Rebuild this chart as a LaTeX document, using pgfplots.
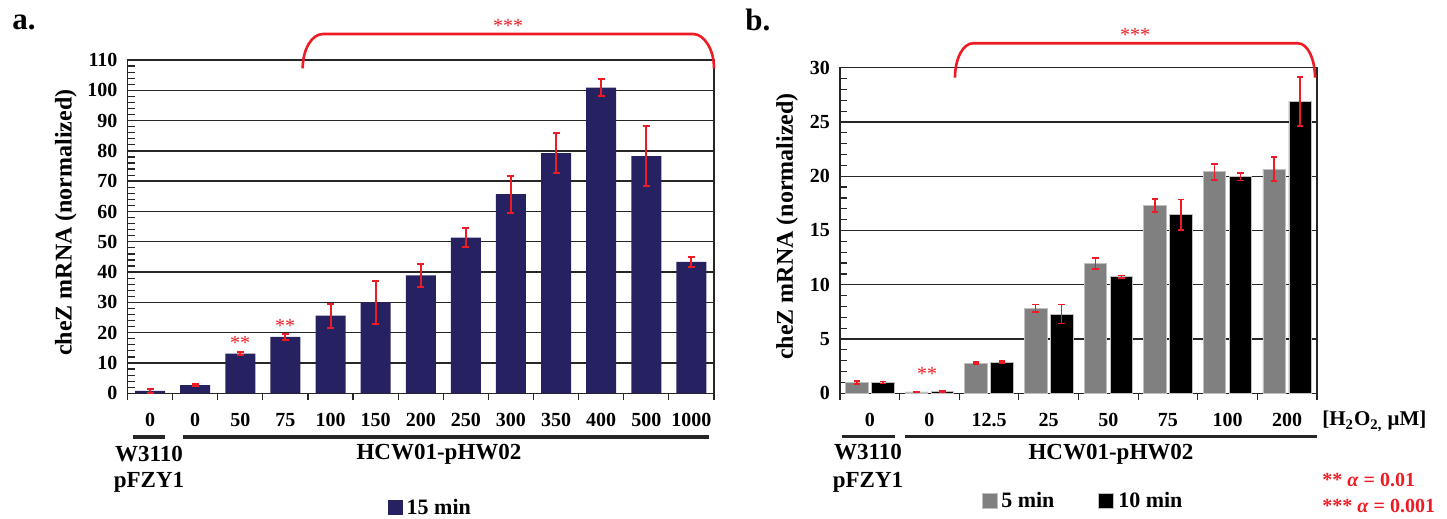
\documentclass[border=0pt]{standalone}
\usepackage{fontspec}
\setmainfont{Liberation Serif}
\usepackage{pgfplots}
\pgfplotsset{compat=1.18}

\definecolor{navybar}{HTML}{262262}
\definecolor{sigred}{HTML}{ED1C24}
\definecolor{grayfive}{HTML}{808080}

% shared look of both panels
\pgfplotsset{
  panel/.style={
    scale only axis,
    anchor=south west,
    axis line style={black!85, line width=0.7pt},
    ymajorgrids,
    grid style={black!85, line width=0.7pt},
    xtick pos=bottom, ytick pos=left,
    xtick align=outside, ytick align=inside,
    major tick length=0pt, minor tick length=3.5pt,
    minor tick style={black!85, line width=0.6pt},
    minor y tick num=4,
    ymin=0,
    tick label style={font=\fontsize{10}{12}\selectfont\bfseries},
    /pgf/number format/assume math mode=true,
    xticklabel style={anchor=base, yshift=-16.7pt},
    yticklabel style={xshift=-1.5pt},
    ylabel={cheZ mRNA (normalized)},
    ylabel style={font=\fontsize{12}{14}\selectfont\bfseries, anchor=center},
    legend style={draw=none, fill=none, anchor=center,
      font=\fontsize{11}{13}\selectfont\bfseries},
    error bars/error bar style={sigred, line width=1pt},
    error bars/error mark options={rotate=90, sigred, mark size=1.75pt, line width=1pt},
  },
  sqlegend/.style={legend image code/.code={\fill[##1] (0pt,-3.75pt) rectangle (7.5pt,3.75pt);}},
}

\begin{document}
\begin{tikzpicture}
\useasboundingbox (0,0) rectangle (723.5pt,259.5pt);

% ---- panel a ----
\begin{axis}[panel,
    at={(63.75pt,62.85pt)},
    width=293.25pt, height=166.65pt,
    ybar, bar width=15pt,
    xmin=-0.5, xmax=12.5,
    ymax=110, ytick={0,10,...,110},
    xtick={0,...,12},
    minor xtick={-0.5,0.5,...,12.5},
    xticklabels={0,0,50,75,100,150,200,250,300,350,400,500,1000},
    ylabel style={at={(axis description cs:-0.105,0.512)}},
    legend style={at={(axis description cs:0.518,-0.344)}},
]
\addplot[fill=navybar, draw=none, sqlegend,
    error bars/.cd, y dir=both, y explicit] coordinates {
    (0,0.8)   +- (0,0.6)
    (1,2.7)   +- (0,0.3)
    (2,13.1)  +- (0,0.55)
    (3,18.6)  +- (0,0.85)
    (4,25.6)  +- (0,3.9)
    (5,30.0)  +- (0,7.0)
    (6,38.9)  +- (0,3.7)
    (7,51.4)  +- (0,3.2)
    (8,65.7)  +- (0,6.1)
    (9,79.3)  +- (0,6.6)
    (10,100.9) +- (0,2.7)
    (11,78.3) +- (0,9.8)
    (12,43.4) +- (0,1.6)
};
\addlegendentry{15 min}
\end{axis}

% ---- panel b ----
\begin{axis}[panel,
    at={(420pt,62.85pt)},
    width=238.5pt, height=162.8pt,
    ybar=1.75pt, bar width=11.25pt,
    xmin=-0.5, xmax=7.5,
    ymax=30, ytick={0,5,...,30},
    xtick={0,...,7},
    minor xtick={-0.5,0.5,...,7.5},
    xticklabels={0,0,12.5,25,50,75,100,200},
    ylabel style={at={(axis description cs:-0.111,0.512)}},
    legend columns=2,
    legend style={at={(axis description cs:0.5115,-0.331)},
      /tikz/every even column/.append style={column sep=20pt}},
    error bars/error bar style={sigred, line width=0.8pt},
    error bars/error mark options={rotate=90, sigred, mark size=1.6pt, line width=0.8pt},
]
\addplot[fill=grayfive, draw=black!25, line width=0.4pt, sqlegend,
    error bars/.cd, y dir=both, y explicit] coordinates {
    (0,1.0)   +- (0,0.12)
    (1,0.12)  +- (0,0.05)
    (2,2.78)  +- (0,0.08)
    (3,7.82)  +- (0,0.35)
    (4,11.95) +- (0,0.5)
    (5,17.3)  +- (0,0.6)
    (6,20.4)  +- (0,0.75)
    (7,20.65) +- (0,1.1)
};
\addlegendentry{5 min}
\addplot[fill=black, draw=black!25, line width=0.4pt, sqlegend,
    error bars/.cd, y dir=both, y explicit] coordinates {
    (0,1.0)   +- (0,0.08)
    (1,0.18)  +- (0,0.05)
    (2,2.87)  +- (0,0.08)
    (3,7.3)   +- (0,0.87)
    (4,10.75) +- (0,0.1)
    (5,16.45) +- (0,1.4)
    (6,19.95) +- (0,0.35)
    (7,26.9)  +- (0,2.27)
};
\addlegendentry{10 min}
\end{axis}

% ---- annotations, in pixel units of the reference (y down) ----
\begin{scope}[yshift=259.5pt, x=0.5pt, y=-0.5pt]
  \tikzset{lab/.style={font=\fontsize{11.5}{13}\selectfont\bfseries, inner sep=0pt},
           star/.style={sigred, font=\fontsize{10}{12}\selectfont, inner sep=0pt}}
  % panel letters
  \node[font=\fontsize{15.5}{18}\selectfont\bfseries, anchor=base west, inner sep=0pt] at (12,30) {a.};
  \node[font=\fontsize{15.5}{18}\selectfont\bfseries, anchor=base west, inner sep=0pt] at (745,31) {b.};
  % significance brackets
  \draw[sigred, line width=1.3pt] (302.7,68.3) .. controls (302.7,49.4) and (311.8,34) .. (323,34)
     -- (693,34) .. controls (704.2,34) and (714,49.4) .. (714,68.3);
  \draw[sigred, line width=1.3pt] (955,77.7) .. controls (955,58.6) and (963,43.3) .. (973,43.3)
     -- (1298,43.3) .. controls (1307.4,43.3) and (1315,58.6) .. (1315,77.7);
  \node[star] at (508,26) {***};
  \node[star] at (1135,35) {***};
  \node[star] at (240,343) {**};
  \node[star] at (285,325.7) {**};
  \node[star] at (927,373.7) {**};
  % strain bars
  \draw[black!85, line width=1.75pt] (133,437) -- (165,437);
  \draw[black!85, line width=1.75pt] (183,437) -- (709,437);
  \draw[black!85, line width=1.75pt] (841.7,436.7) -- (895,436.7);
  \draw[black!85, line width=1.75pt] (905,436.7) -- (1317,436.7);
  % strain names
  \node[lab, anchor=base] at (149,461.7) {W3110};
  \node[lab, anchor=base] at (149,488) {pFZY1};
  \node[lab, anchor=base] at (439,460) {HCW01-pHW02};
  \node[lab, anchor=base] at (868,460) {W3110};
  \node[lab, anchor=base] at (868,488) {pFZY1};
  \node[lab, anchor=base] at (1111,460) {HCW01-pHW02};
  % unit of the x categories in panel b
  \node[font=\fontsize{10.5}{12}\selectfont\bfseries, anchor=base west, inner sep=0pt] at (1322,426)
     {[H\textsubscript{2}O\textsubscript{2,} μM]};
  % significance key
  \node[sigred, font=\fontsize{10}{12}\selectfont\bfseries, anchor=base west, inner sep=0pt] at (1322,486.7)
     {** \textit{α} = 0.01};
  \node[sigred, font=\fontsize{10}{12}\selectfont\bfseries, anchor=base west, inner sep=0pt] at (1322,513)
     {*** \textit{α} = 0.001};
\end{scope}
\end{tikzpicture}
\end{document}
